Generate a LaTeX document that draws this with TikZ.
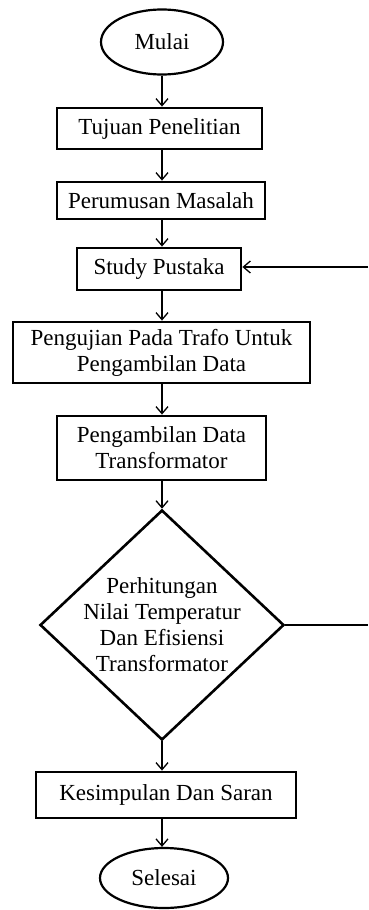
\documentclass[tikz,border=0pt]{standalone}
\usepackage{fontspec}
\setmainfont{Liberation Serif}
\usetikzlibrary{shapes.geometric,arrows.meta}
\tikzset{
	proc/.style={draw, line width=2.8pt, rectangle, align=center, inner sep=0pt},
	term/.style={draw, line width=2.2pt, ellipse, inner sep=0pt},
	decide/.style={draw, line width=2.6pt, diamond, align=center, inner sep=-25pt},
	arr/.style={line width=1.3pt, -{Straight Barb[length=7pt,width=12pt,line width=1.3pt]}},
	back/.style={line width=1.3pt}
}
\begin{document}
\begin{tikzpicture}[x=1pt,y=-1pt,font=\fontsize{23}{26}\selectfont]
		\useasboundingbox (0,0) rectangle (368,910);
		\node[term, minimum width=122pt, minimum height=65pt] (mulai) at (162,42) {Mulai};
		\node[proc, minimum width=205pt, minimum height=41pt] (tujuan) at (159.5,128.5) {Tujuan Penelitian};
		\node[proc, minimum width=208pt, minimum height=37pt] (rumusan) at (161,200.5) {Perumusan Masalah};
		\node[proc, minimum width=164pt, minimum height=42pt] (studi) at (159,269) {Study Pustaka};
		\node[proc, minimum width=297pt, minimum height=61pt] (uji) at (161.5,352.5) {Pengujian Pada Trafo Untuk\\Pengambilan Data};
		\node[proc, minimum width=209pt, minimum height=64pt] (ambil) at (161.5,448) {Pengambilan Data\\Transformator};
		\node[decide, minimum width=244pt, minimum height=230pt] (hitung) at (162,625) {Perhitungan\\Nilai Temperatur\\Dan Efisiensi\\Transformator};
		\node[proc, minimum width=260pt, minimum height=46pt] (simpul) at (166,795) {Kesimpulan Dan Saran};
		\node[term, minimum width=128pt, minimum height=60pt] (selesai) at (164,878) {Selesai};
		% alur utama
		\draw[arr] (mulai.south) -- (mulai.south |- tujuan.north);
		\draw[arr] (mulai.south |- tujuan.south) -- (mulai.south |- rumusan.north);
		\draw[arr] (mulai.south |- rumusan.south) -- (mulai.south |- studi.north);
		\draw[arr] (mulai.south |- studi.south) -- (mulai.south |- uji.north);
		\draw[arr] (mulai.south |- uji.south) -- (mulai.south |- ambil.north);
		\draw[arr] (mulai.south |- ambil.south) -- (hitung.north);
		\draw[arr] (hitung.south) -- (hitung.south |- simpul.north);
		\draw[arr] (hitung.south |- simpul.south) -- (hitung.south |- selesai.north);
		% umpan balik
		\coordinate (kanan1) at (368,625);
		\coordinate (kanan2) at (368,267);
		\draw[back] (hitung.east) -- (kanan1);
		\draw[arr] (kanan2) -- (studi.east |- kanan2);
		\end{tikzpicture}
\end{document}
